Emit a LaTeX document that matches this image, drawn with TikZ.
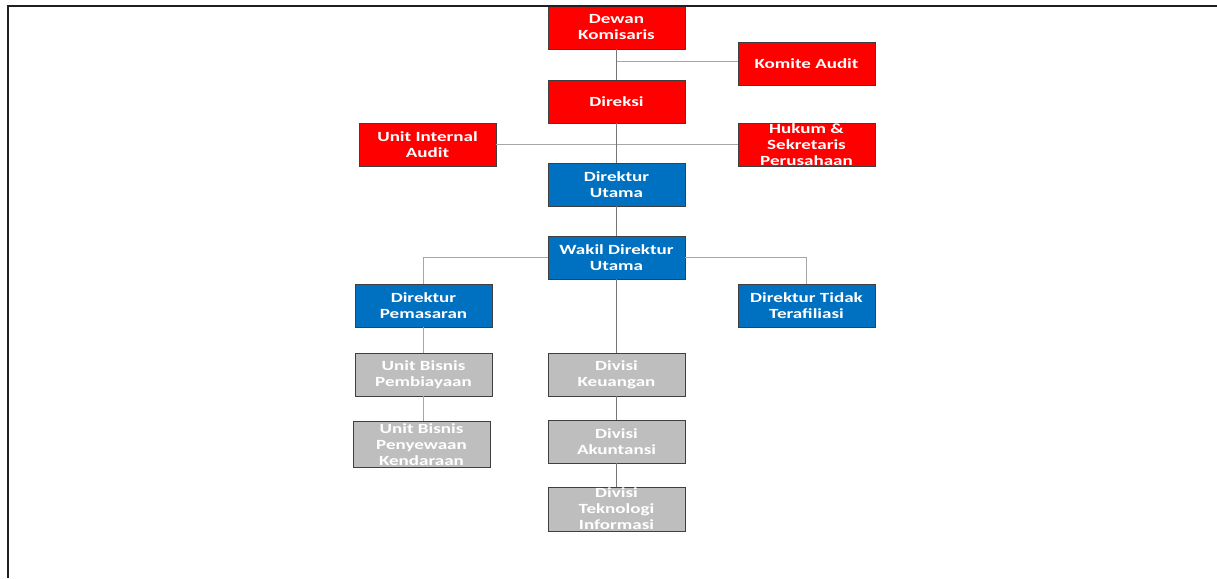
\documentclass[tikz,border=0pt]{standalone}
\usepackage{fontspec}
\newfontfamily\boxfont{Carlito}[FakeStretch=1.36]
\definecolor{cred}{HTML}{FF0000}
\definecolor{cblue}{HTML}{0070C0}
\definecolor{cgray}{HTML}{BEBEBE}
\definecolor{cedge}{HTML}{3F3F3F}
\definecolor{cline}{HTML}{767676}
\definecolor{clight}{HTML}{A6A6A6}
\definecolor{cframe}{HTML}{231F20}
\tikzset{
  box/.style={draw=cedge, line width=0.8pt, minimum width=137pt, minimum height=43pt,
    inner sep=0pt, text=white, align=center,
    font=\boxfont\bfseries\fontsize{14}{16}\selectfont},
  redbox/.style={box, fill=cred},
  bluebox/.style={box, fill=cblue},
  graybox/.style={box, fill=cgray},
  lbl/.style={text=white, align=center, inner sep=0pt,
    font=\boxfont\bfseries\fontsize{14}{16}\selectfont},
  conn/.style={draw=cline, line width=0.9pt},
  connlight/.style={draw=clight, line width=0.9pt},
  frame/.style={draw=cframe, line width=1.6pt}
}
\begin{document}
\begin{tikzpicture}[x=1pt,y=-1pt]
\useasboundingbox (0,0) rectangle (1217,578);
% boxes
\node[redbox] (dewan) at (616.5,27.5) {Dewan\\Komisaris};
\node[redbox] (komite) at (806.5,64) {Komite Audit};
\node[redbox] (direksi) at (616.5,101.5) {Direksi};
\node[redbox] (uia) at (427.5,144.5) {Unit Internal\\Audit};
\node[redbox, label={[lbl]center:Hukum \&\\Sekretaris\\Perusahaan}] (hukum) at (806.5,144.5) {};
\node[bluebox] (dirut) at (616.5,184.5) {Direktur\\Utama};
\node[bluebox] (wakil) at (616.5,257.5) {Wakil Direktur\\Utama};
\node[bluebox] (pem) at (423.5,305.5) {Direktur\\Pemasaran};
\node[bluebox] (tidak) at (806.5,305.5) {Direktur Tidak\\Terafiliasi};
\node[graybox] (pemb) at (423.5,374.5) {Unit Bisnis\\Pembiayaan};
\node[graybox, minimum height=46pt, label={[lbl]center:Unit Bisnis\\Penyewaan\\Kendaraan}] (peny) at (421.5,444.5) {};
\node[graybox] (keu) at (616.5,374.5) {Divisi\\Keuangan};
\node[graybox] (aku) at (616.5,441.5) {Divisi\\Akuntansi};
\node[graybox, minimum height=44pt, label={[lbl]center:Divisi\\Teknologi\\Informasi}] (tek) at (616.5,509) {};
% connectors
\coordinate (k1) at (616.5,61);
\draw[conn] (dewan.south) -- (direksi.north);
\draw[connlight] (k1) -- (k1 -| komite.west);
\draw[connlight] (uia.east) -- (hukum.west);
\draw[conn] (direksi.south) -- (dirut.north);
\draw[conn] (dirut.south) -- (wakil.north);
\draw[connlight] (wakil.west) -| (pem.north);
\draw[connlight] (wakil.east) -| (tidak.north);
\draw[conn] (wakil.south) -- (keu.north);
\draw[connlight] (pem.south) -- (pemb.north);
\draw[connlight] (pemb.south) -- (pemb.south |- peny.north);
\draw[conn] (keu.south) -- (aku.north);
\draw[conn] (aku.south) -- (tek.north);
% frame
\coordinate (f1) at (8,578);
\coordinate (f2) at (8,6);
\coordinate (f3) at (1217,6);
\draw[frame] (f1) -- (f2) -- (f3);
\end{tikzpicture}
\end{document}
